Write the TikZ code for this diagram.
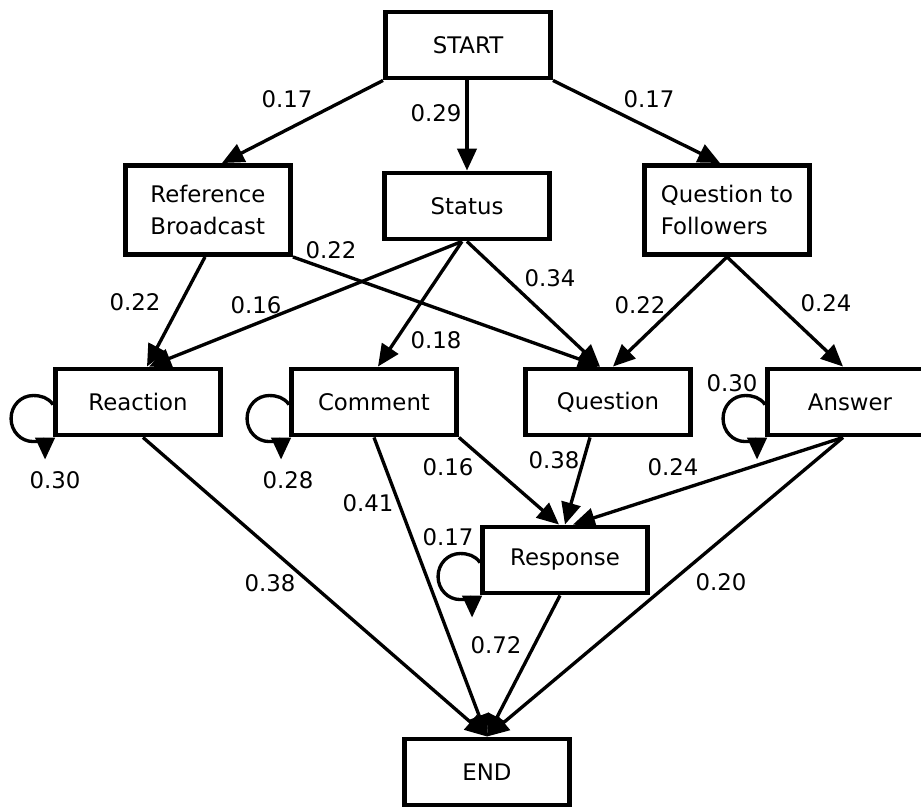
\documentclass[tikz,border=0pt]{standalone}
\usepackage{fontspec}
\setmainfont{DejaVu Sans}
\usetikzlibrary{arrows.meta,calc}

\tikzset{
  state/.style={draw, line width=2.8pt, fill=white, inner sep=0pt,
    minimum width=3.3cm, minimum height=1.32cm, align=left,
    font=\fontsize{13}{18}\selectfont},
  tallstate/.style={state, minimum height=1.78cm},
  edge/.style={line width=1.9pt, -{Triangle[length=12.5pt,width=11pt]}},
  lbl/.style={inner sep=0pt, font=\fontsize{13}{15}\selectfont},
}

% self-loop drawn on the left side of a box
\newcommand{\leftloop}[1]{%
  \draw[edge] ($(#1.north west)+(0,38)$)
    .. controls ($(#1.north west)+(-5,31)$) and ($(#1.north west)+(-12,29)$)
    .. ($(#1.north west)+(-20,29)$)
    .. controls ($(#1.north west)+(-32,29)$) and ($(#1.north west)+(-42,39)$)
    .. ($(#1.north west)+(-42,52)$)
    .. controls ($(#1.north west)+(-42,65)$) and ($(#1.north west)+(-32,75)$)
    .. ($(#1.north west)+(-20,75)$)
    .. controls ($(#1.north west)+(-12,75)$) and ($(#1.north west)+(-8,74)$)
    .. ($(#1.north west)+(-8,93)$);}

\begin{document}
\begin{tikzpicture}[x=0.02cm,y=-0.02cm]
\useasboundingbox (0,0) rectangle (921,810);

% states
\node[state]     (start)    at (468,45)  {START};
\node[tallstate] (rb)       at (208,210) {Reference\\Broadcast};
\node[state]     (status)   at (467,206) {Status};
\node[tallstate] (qtf)      at (727,210) {Question to\\Followers};
\node[state]     (reaction) at (138,402) {Reaction};
\node[state]     (comment)  at (374,402) {Comment};
\node[state]     (question) at (608,402) {Question};
\node[state]     (answer)   at (850,402) {Answer};
\node[state]     (response) at (565,560) {Response};
\node[state]     (finish)   at (487,772) {END};

% transitions
\draw[edge] (start.south west) -- ($(rb.north)+(14,0)$);
\draw[edge] (status.north |- start.south) -- (status.north);
\draw[edge] (start.south east) -- ($(qtf.north)+(-7,0)$);
\draw[edge] ($(rb.south)+(-3,0)$) -- ($(reaction.north)+(9,0)$);
\draw[edge] (rb.south east) -- ($(question.north)+(-8,0)$);
\draw[edge] ($(status.south)+(-5,0)$) -- ($(reaction.north)+(11,0)$);
\draw[edge] ($(status.south)+(-5,0)$) -- ($(comment.north)+(4,0)$);
\draw[edge] (status.south) -- ($(question.north)+(-8,0)$);
\draw[edge] (qtf.south) -- ($(question.north)+(5,0)$);
\draw[edge] (qtf.south) -- ($(answer.north)+(-7,0)$);
\draw[edge] ($(reaction.south)+(5,0)$) -- (finish.north);
\draw[edge] (comment.south) -- (finish.north);
\draw[edge] (comment.south east) -- ($(response.north)+(-6,0)$);
\draw[edge] ($(question.south)+(-18,0)$) -- (response.north);
\draw[edge] ($(answer.south)+(-7,0)$) -- ($(response.north)+(8,0)$);
\draw[edge] ($(answer.south)+(-7,0)$) -- (finish.north);
\draw[edge] ($(response.south)+(-5,0)$) -- (finish.north);

% self transitions
\leftloop{reaction}
\leftloop{comment}
\leftloop{answer}
\leftloop{response}

% probabilities
\node[lbl] (p1)  at (287,99)  {0.17};
\node[lbl] (p2)  at (436,113) {0.29};
\node[lbl] (p3)  at (649,99)  {0.17};
\node[lbl] (p4)  at (135,302) {0.22};
\node[lbl] (p5)  at (256,305) {0.16};
\node[lbl] (p6)  at (331,250) {0.22};
\node[lbl] (p7)  at (436,340) {0.18};
\node[lbl] (p8)  at (550,278) {0.34};
\node[lbl] (p9)  at (640,305) {0.22};
\node[lbl] (p10) at (826,303) {0.24};
\node[lbl] (p11) at (732,383) {0.30};
\node[lbl] (p12) at (55,480)  {0.30};
\node[lbl] (p13) at (288,480) {0.28};
\node[lbl] (p14) at (448,467) {0.16};
\node[lbl] (p15) at (368,503) {0.41};
\node[lbl] (p16) at (448,537) {0.17};
\node[lbl] (p17) at (270,583) {0.38};
\node[lbl] (p18) at (554,460) {0.38};
\node[lbl] (p19) at (673,467) {0.24};
\node[lbl] (p20) at (721,582) {0.20};
\node[lbl] (p21) at (496,645) {0.72};
\end{tikzpicture}
\end{document}
